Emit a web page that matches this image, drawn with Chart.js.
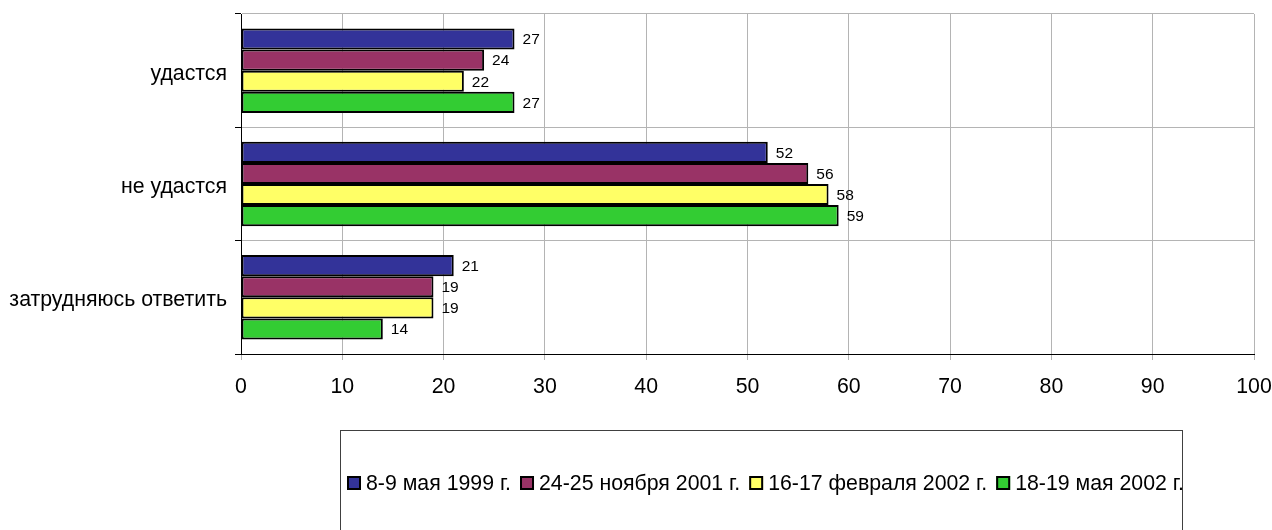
<!DOCTYPE html>
<html>
<head>
<meta charset="utf-8">
<script src="https://cdn.jsdelivr.net/npm/chart.js@4.4.1/dist/chart.umd.min.js"></script>
<style>
  html, body { margin: 0; padding: 0; background: #fff; }
  #wrap { width: 1272px; height: 530px; }
</style>
</head>
<body>
<div id="wrap"><canvas id="pollChart" width="1272" height="530"></canvas></div>
<script>
const categories = ['удастся', 'не удастся', 'затрудняюсь ответить'];
const seriesLabels = ['8-9 мая 1999 г.', '24-25 ноября 2001 г.', '16-17 февраля 2002 г.', '18-19 мая 2002 г.'];
const may1999 = [27, 52, 21];
const nov2001 = [24, 56, 19];
const feb2002 = [22, 58, 19];
const may2002 = [27, 59, 14];
const xTicks = [0, 10, 20, 30, 40, 50, 60, 70, 80, 90, 100];

const colors = ['#333399', '#993366', '#FFFF66', '#33CC33'];
const FONT = '"Liberation Sans", Arial, sans-serif';

// value labels to the right of each bar
const barValues = {
    id: 'barValues',
    afterDatasetsDraw(chart) {
        const ctx = chart.ctx;
        ctx.save();
        ctx.font = '15.5px ' + FONT;
        ctx.fillStyle = '#000';
        ctx.textAlign = 'left';
        ctx.textBaseline = 'middle';
        chart.data.datasets.forEach((ds, i) => {
            chart.getDatasetMeta(i).data.forEach((bar, j) => {
                ctx.fillText(String(ds.data[j]), bar.x + 8, bar.y + 1);
            });
        });
        ctx.restore();
    }
};

// boxed legend below the axis
const boxLegend = {
    id: 'boxLegend',
    afterDraw(chart) {
        const ctx = chart.ctx;
        ctx.save();
        ctx.strokeStyle = '#404040';
        ctx.lineWidth = 1;
        ctx.strokeRect(340.5, 430.5, 842, 130);

        ctx.font = '21.3px ' + FONT;
        ctx.textBaseline = 'middle';
        let x = 347;
        const y = 483;
        chart.data.datasets.forEach(ds => {
            ctx.fillStyle = ds.backgroundColor;
            ctx.fillRect(x, y - 7, 14, 14);
            ctx.strokeStyle = '#000';
            ctx.lineWidth = 2;
            ctx.strokeRect(x + 1, y - 6, 12, 12);
            x += 19;
            ctx.fillStyle = '#000';
            ctx.fillText(ds.label, x, y + 1);
            x += ctx.measureText(ds.label).width + 9;
        });
        ctx.restore();
    }
};

const seriesData = [may1999, nov2001, feb2002, may2002];

new Chart(document.getElementById('pollChart'), {
    type: 'bar',
    data: {
        labels: categories,
        datasets: seriesData.map((d, i) => ({
            label: seriesLabels[i],
            data: d,
            backgroundColor: colors[i],
            borderColor: '#000',
            borderWidth: 2,
            borderSkipped: false,
            categoryPercentage: 0.745,
            barPercentage: 1
        }))
    },
    options: {
        indexAxis: 'y',
        responsive: false,
        animation: false,
        events: [],
        layout: { padding: { top: 14, right: 18, left: 0, bottom: 0 } },
        scales: {
            x: {
                min: 0,
                max: 100,
                afterBuildTicks(scale) {
                    scale.ticks = xTicks.map(v => ({ value: v }));
                },
                afterFit(scale) {
                    scale.height = 176;
                    scale.paddingLeft = 0;
                    scale.paddingRight = 0;
                },
                grid: { color: '#b4b4b4', tickColor: '#b4b4b4', tickLength: 6, lineWidth: 1 },
                border: { color: '#000', width: 1 },
                ticks: { color: '#000', font: { family: FONT, size: 21.3 }, padding: 14, maxRotation: 0 }
            },
            y: {
                afterFit(scale) {
                    scale.width = 241;
                    scale.paddingTop = 0;
                    scale.paddingBottom = 0;
                    // category names sit a little below the band centre
                    if (!scale._labelShift) {
                        const drawLabels = scale.drawLabels.bind(scale);
                        scale.drawLabels = area => {
                            scale.ctx.save();
                            scale.ctx.translate(0, 3);
                            drawLabels(area);
                            scale.ctx.restore();
                        };
                        scale._labelShift = true;
                    }
                },
                grid: { offset: true, color: '#b4b4b4', tickColor: '#000', tickLength: 6, lineWidth: 1 },
                border: { color: '#000', width: 1 },
                ticks: { color: '#000', font: { family: FONT, size: 21.3 }, padding: 8 }
            }
        },
        plugins: {
            legend: { display: false },
            tooltip: { enabled: false }
        }
    },
    plugins: [barValues, boxLegend]
});
</script>
</body>
</html>
